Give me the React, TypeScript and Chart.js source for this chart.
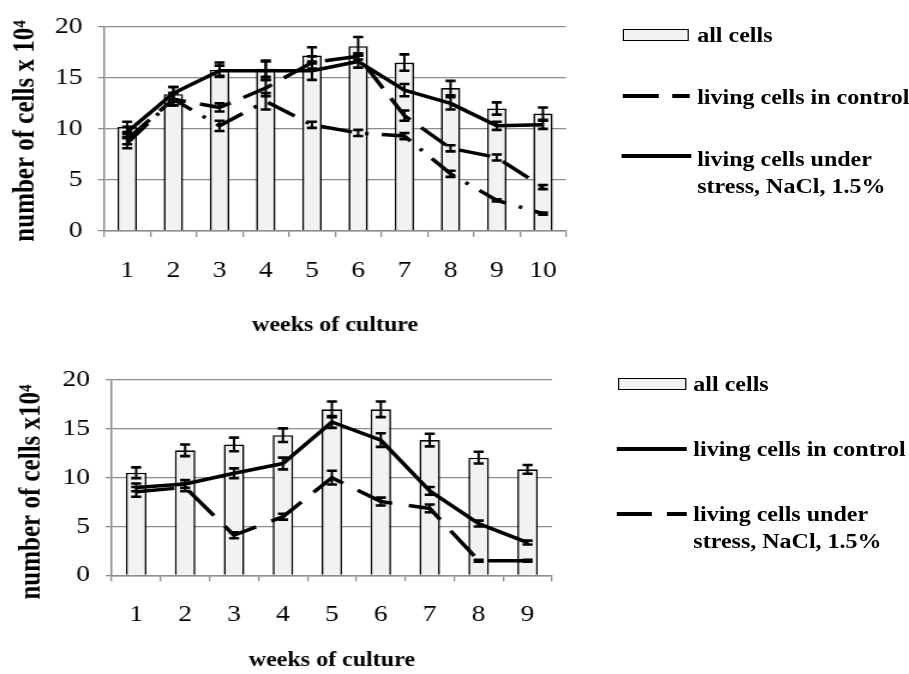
import React, { useEffect, useRef } from 'react';
import { Chart, registerables } from 'chart.js';

Chart.register(...registerables);

// ---------- data: top chart ----------
const weeksTop = ['1', '2', '3', '4', '5', '6', '7', '8', '9', '10'];
const allCellsTop = [10.2, 13.4, 15.8, 15.9, 17.2, 18.1, 16.5, 14.0, 12.0, 11.5];
const allCellsTopErr = [0.5, 0.7, 0.7, 0.8, 0.8, 0.9, 0.8, 0.7, 0.6, 0.6];
const controlTop = [9.0, 12.9, 12.1, 14.0, 16.5, 17.1, 11.3, 8.1, 7.2, 4.3];
const controlTopErr = [0.5, 0.6, 0.4, 0.8, 0.6, 0.3, 0.5, 0.3, 0.3, 0.2];
const controlTop2 = [8.6, 12.9, 10.3, 12.7, 10.4, 9.6, 9.3, 5.6, 3.0, 1.7];
const controlTop2Err = [0.5, 0.6, 0.5, 0.8, 0.3, 0.3, 0.3, 0.3, 0.1, 0.1];
const stressTop = [9.7, 13.5, 15.7, 15.7, 15.7, 16.6, 13.8, 12.5, 10.3, 10.4];
const stressTopErr = [0.5, 0.6, 0.5, 0.9, 0.9, 0.6, 0.6, 0.6, 0.4, 0.4];

// ---------- data: bottom chart ----------
const weeksBottom = ['1', '2', '3', '4', '5', '6', '7', '8', '9'];
const allCellsBottom = [10.5, 12.8, 13.4, 14.35, 17.0, 17.0, 13.85, 12.05, 10.85];
const allCellsBottomErr = [0.55, 0.6, 0.7, 0.7, 0.8, 0.8, 0.65, 0.6, 0.45];
const controlBottom = [9.0, 9.35, 10.45, 11.45, 15.7, 13.85, 8.65, 5.3, 3.35];
const controlBottomErr = [0.4, 0.4, 0.5, 0.6, 0.6, 0.7, 0.4, 0.3, 0.2];
const stressBottom = [8.55, 9.0, 4.1, 6.0, 10.0, 7.55, 6.85, 1.5, 1.5];
const stressBottomErr = [0.5, 0.4, 0.3, 0.3, 0.7, 0.4, 0.4, 0.1, 0.1];

// ---------- text ----------
const yTitleTop = 'number of cells x 10\u2074';
const yTitleBottom = 'number of cells x10\u2074';
const xTitle = 'weeks of culture';
const legendTop = ['all cells', 'living cells in control', 'living cells under', 'stress, NaCl, 1.5%'];
const legendBottom = ['all cells', 'living cells in control', 'living cells under', 'stress, NaCl, 1.5%'];

const SERIF = '"Liberation Serif", "Times New Roman", Times, serif';
const GRID = '#8c8c8c';
const BAR_FILL = '#f2f2f2';
const STRETCH = 1.2;
const INNER_W = 757;

const errorBarsPlugin = {
  id: 'errorBars',
  afterDatasetsDraw(chart: any) {
    const ctx = chart.ctx;
    const yScale = chart.scales.y;
    chart.data.datasets.forEach((ds: any, di: number) => {
      const errs: number[] | undefined = ds.errors;
      if (!errs) return;
      const meta = chart.getDatasetMeta(di);
      meta.data.forEach((el: any, i: number) => {
        const v = ds.data[i];
        const e = errs[i];
        const x = el.x;
        const yt = yScale.getPixelForValue(v + e);
        const yb = yScale.getPixelForValue(v - e);
        ctx.save();
        ctx.strokeStyle = '#000';
        ctx.lineWidth = 2;
        ctx.beginPath();
        ctx.moveTo(x, yt);
        ctx.lineTo(x, yb);
        ctx.stroke();
        ctx.lineWidth = 2.6;
        ctx.beginPath();
        ctx.moveTo(x - 4.2, yt);
        ctx.lineTo(x + 4.2, yt);
        ctx.moveTo(x - 4.2, yb);
        ctx.lineTo(x + 4.2, yb);
        ctx.stroke();
        ctx.restore();
      });
    });
  },
};

const yTitlePlugin = {
  id: 'yTitleText',
  afterDraw(chart: any, _args: any, opts: any) {
    const ctx = chart.ctx;
    ctx.save();
    ctx.translate(opts.x, opts.y);
    ctx.rotate(-Math.PI / 2);
    ctx.font = `bold ${opts.size}px ${SERIF}`;
    ctx.fillStyle = '#000';
    ctx.textAlign = 'center';
    ctx.textBaseline = 'middle';
    ctx.fillText(opts.text, 0, 0);
    ctx.restore();
  },
};

interface SeriesDef {
  label: string;
  type: 'bar' | 'line';
  data: number[];
  errors: number[];
  dash?: number[];
}

interface BlockProps {
  top: number;
  width: number;
  height: number;
  labels: string[];
  series: SeriesDef[];
  padTop: number;
  padRight: number;
  yAxisWidth: number;
  xAxisHeight: number;
  xTitlePad: number;
  yTitle: string;
  yTitleX: number;
  yTitleY: number;
}

function ChartBlock(p: BlockProps) {
  const ref = useRef<HTMLCanvasElement | null>(null);
  useEffect(() => {
    if (!ref.current) return;
    const datasets: any[] = p.series.map((s) =>
      s.type === 'bar'
        ? {
            type: 'bar',
            label: s.label,
            data: s.data,
            errors: s.errors,
            backgroundColor: BAR_FILL,
            borderColor: '#000',
            borderWidth: 1.6,
            barPercentage: 1,
            categoryPercentage: 0.42,
            order: 5,
          }
        : {
            type: 'line',
            label: s.label,
            data: s.data,
            errors: s.errors,
            borderColor: '#000',
            borderWidth: 3.5,
            borderDash: s.dash || [],
            borderCapStyle: 'butt',
            borderJoinStyle: 'round',
            pointRadius: 0,
            tension: 0,
            fill: false,
            order: 1,
          }
    );
    const chart = new Chart(ref.current, {
      type: 'bar',
      data: { labels: p.labels, datasets },
      options: {
        responsive: false,
        animation: false,
        layout: { padding: { top: p.padTop, right: p.padRight, left: 0, bottom: 0 } },
        plugins: {
          legend: { display: false },
          tooltip: { enabled: false },
          yTitleText: { text: p.yTitle, x: p.yTitleX, y: p.yTitleY, size: 25 },
        } as any,
        scales: {
          x: {
            offset: true,
            grid: {
              display: true,
              offset: true,
              drawOnChartArea: false,
              drawTicks: true,
              tickLength: 6,
              color: GRID,
              lineWidth: 1.3,
            },
            border: { display: true, color: GRID, width: 1.5 },
            ticks: {
              color: '#000',
              font: { family: SERIF, size: 23 },
              padding: 20,
              maxRotation: 0,
              autoSkip: false,
            },
            title: {
              display: true,
              text: xTitle,
              color: '#000',
              font: { family: SERIF, size: 20, weight: 'bold' },
              padding: { top: 0, bottom: p.xTitlePad },
            },
            afterFit: (s: any) => {
              s.height = p.xAxisHeight;
            },
          } as any,
          y: {
            min: 0,
            max: 20,
            ticks: {
              stepSize: 5,
              color: '#000',
              font: { family: SERIF, size: 23 },
              padding: 13,
            },
            grid: { color: GRID, lineWidth: 1.3, tickLength: 5, drawTicks: true },
            border: { display: true, color: GRID, width: 1.5 },
            afterFit: (s: any) => {
              s.width = p.yAxisWidth;
            },
          } as any,
        },
      },
      plugins: [errorBarsPlugin, yTitlePlugin],
    });
    return () => chart.destroy();
  }, []);
  return (
    <canvas
      ref={ref}
      width={p.width}
      height={p.height}
      style={{ position: 'absolute', left: 0, top: p.top, width: p.width, height: p.height }}
    />
  );
}

function Symbol({ kind, x1, x2, y, dash }: { kind: string; x1: number; x2: number; y: number; dash?: string }) {
  if (kind === 'bar') {
    return (
      <div
        style={{
          position: 'absolute',
          left: x1,
          top: y - 6,
          width: x2 - x1,
          height: 12,
          boxSizing: 'border-box',
          background: BAR_FILL,
          border: '1.6px solid #000',
        }}
      />
    );
  }
  return (
    <svg style={{ position: 'absolute', left: x1, top: y - 4, overflow: 'visible' }} width={x2 - x1} height={8}>
      <line x1={0} y1={4} x2={x2 - x1} y2={4} stroke="#000" strokeWidth={4} strokeDasharray={dash || undefined} />
    </svg>
  );
}

function LegendText({ x, top, lines }: { x: number; top: number; lines: string[] }) {
  return (
    <div
      style={{
        position: 'absolute',
        left: x,
        top,
        font: `bold 20px ${SERIF}`,
        lineHeight: '27px',
        whiteSpace: 'nowrap',
        color: '#000',
      }}
    >
      {lines.map((l, i) => (
        <div key={i}>{l}</div>
      ))}
    </div>
  );
}

export default function App() {
  return (
    <div style={{ position: 'absolute', left: 0, top: 0, width: 909, height: 674, overflow: 'hidden', background: '#fff' }}>
      <div
        style={{
          position: 'absolute',
          left: 0,
          top: 0,
          width: INNER_W,
          height: 674,
          transform: `scaleX(${STRETCH})`,
          transformOrigin: '0 0',
        }}
      >
        <ChartBlock
          top={0}
          width={500}
          height={345}
          labels={weeksTop}
          series={[
            { label: 'all cells', type: 'bar', data: allCellsTop, errors: allCellsTopErr },
            { label: 'living cells in control', type: 'line', data: controlTop, errors: controlTopErr, dash: [27, 12] },
            { label: 'living cells in control (2)', type: 'line', data: controlTop2, errors: controlTop2Err, dash: [26, 11, 3, 11] },
            { label: 'living cells under stress, NaCl, 1.5%', type: 'line', data: stressTop, errors: stressTopErr },
          ]}
          padTop={20}
          padRight={28.3}
          yAxisWidth={86.7}
          xAxisHeight={114}
          xTitlePad={7}
          yTitle={yTitleTop}
          yTitleX={21.5}
          yTitleY={131}
        />
        <ChartBlock
          top={345}
          width={500}
          height={329}
          labels={weeksBottom}
          series={[
            { label: 'all cells', type: 'bar', data: allCellsBottom, errors: allCellsBottomErr },
            { label: 'living cells in control', type: 'line', data: controlBottom, errors: controlBottomErr },
            { label: 'living cells under stress, NaCl, 1.5%', type: 'line', data: stressBottom, errors: stressBottomErr, dash: [32, 14] },
          ]}
          padTop={35}
          padRight={40}
          yAxisWidth={93.1}
          xAxisHeight={98.7}
          xTitlePad={1}
          yTitle={yTitleBottom}
          yTitleX={27}
          yTitleY={147}
        />

        {/* top legend */}
        <Symbol kind="bar" x1={518.6} x2={574.4} y={34.5} />
        <LegendText x={581} top={42.7 - 20.25} lines={[legendTop[0]]} />
        <Symbol kind="line" x1={518.6} x2={574.4} y={96} dash="30 11.2" />
        <LegendText x={581} top={104 - 20.25} lines={[legendTop[1]]} />
        <Symbol kind="line" x1={517.5} x2={575.6} y={156} />
        <LegendText x={581} top={166.7 - 20.25} lines={[legendTop[2], legendTop[3]]} />

        {/* bottom legend */}
        <Symbol kind="bar" x1={515.3} x2={572.2} y={384} />
        <LegendText x={577.8} top={391.7 - 20.25} lines={[legendBottom[0]]} />
        <Symbol kind="line" x1={513.9} x2={572.2} y={449.3} />
        <LegendText x={577.8} top={456 - 20.25} lines={[legendBottom[1]]} />
        <Symbol kind="line" x1={513.9} x2={572.2} y={514.3} dash="29.2 12.5" />
        <LegendText x={577.8} top={521.7 - 20.25} lines={[legendBottom[2], legendBottom[3]]} />
      </div>
    </div>
  );
}
